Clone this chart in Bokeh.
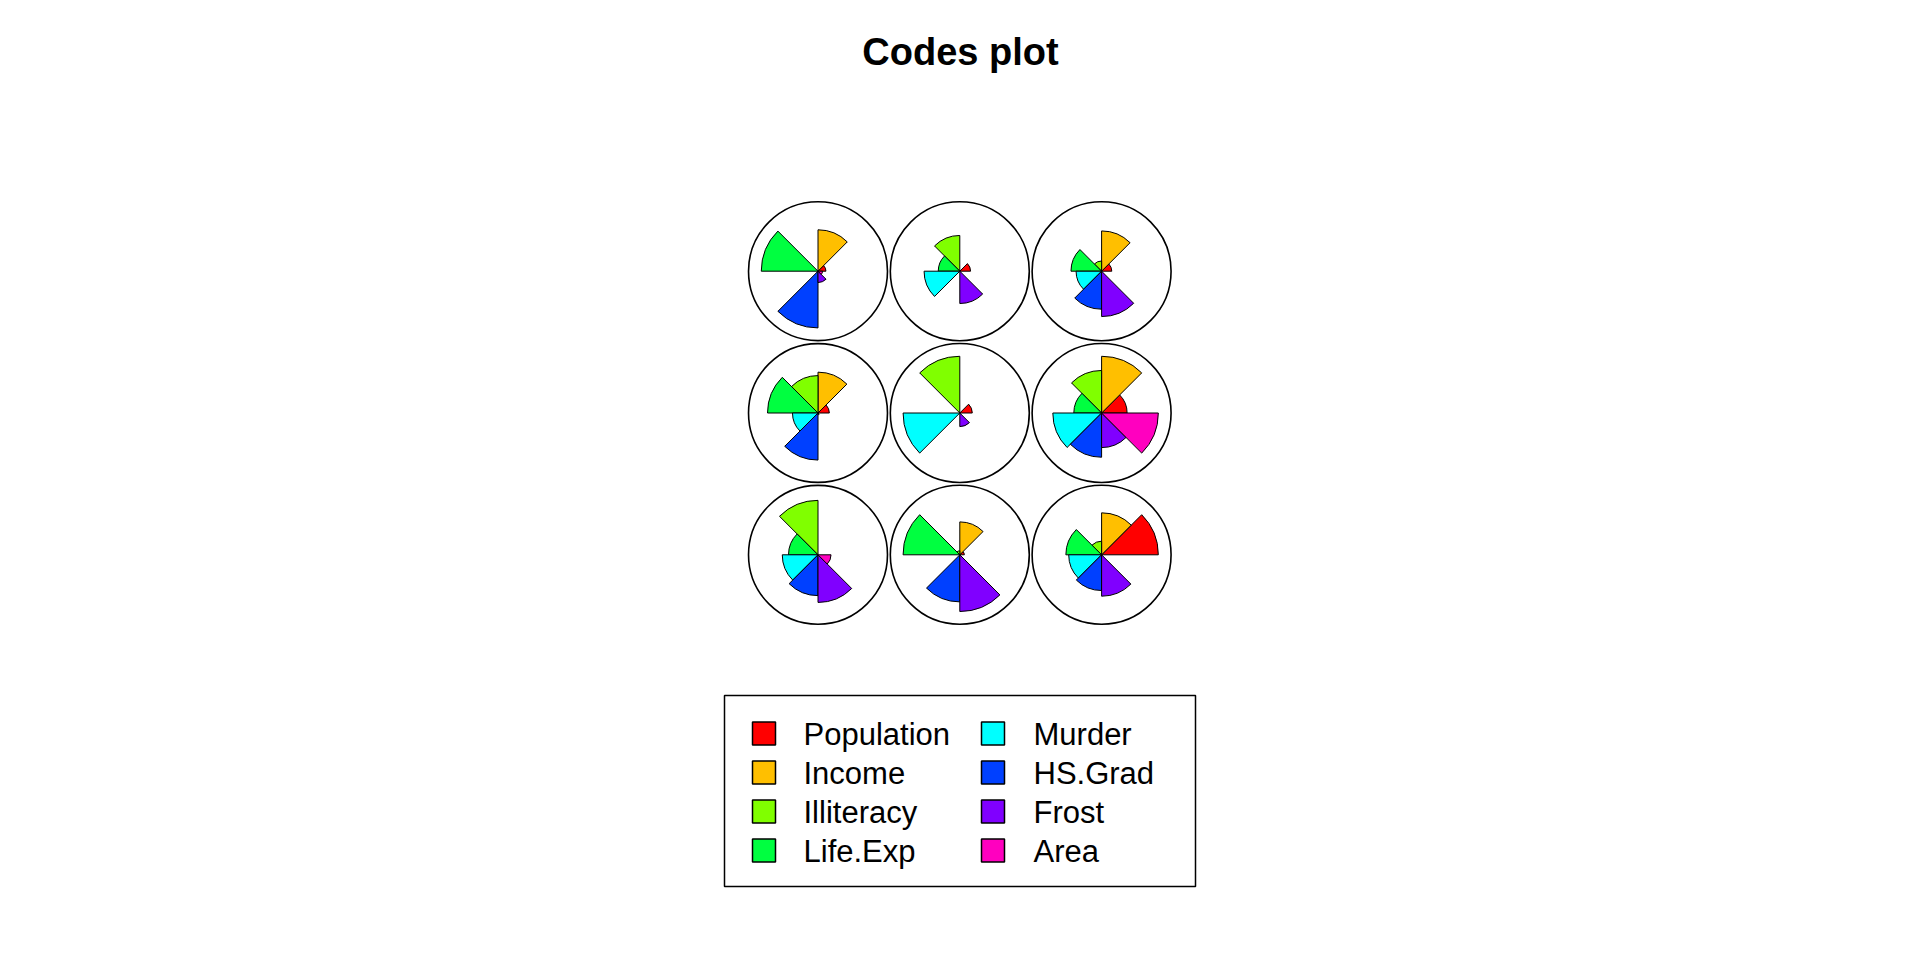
import numpy as np
from bokeh.plotting import figure
from bokeh.models import Range1d, ColumnDataSource, Label
from bokeh.core.properties import value
from bokeh.embed import file_html
from bokeh.resources import INLINE

# ---- data ----
variables = ["Population", "Income", "Illiteracy", "Life.Exp",
             "Murder", "HS.Grad", "Frost", "Area"]
colors = ["#FF0000", "#FFBF00", "#80FF00", "#00FF40",
          "#00FFFF", "#0040FF", "#8000FF", "#FF00BF"]

# unit grid positions (3x3 rectangular SOM), unit 1 bottom-left
unit_x = [1, 2, 3, 1, 2, 3, 1, 2, 3]
unit_y = [1, 1, 1, 2, 2, 2, 3, 3, 3]

# scaled codebook values (0..1) per unit, columns = variables
codes = [
    [0.00, 0.00, 0.96, 0.52, 0.63, 0.72, 0.84, 0.23],  # unit 1 (bottom-left)
    [0.08, 0.58, 0.07, 1.00, 0.00, 0.83, 1.00, 0.00],  # unit 2
    [1.00, 0.74, 0.24, 0.63, 0.58, 0.63, 0.73, 0.00],  # unit 3
    [0.20, 0.72, 0.66, 0.89, 0.45, 0.83, 0.03, 0.00],  # unit 4
    [0.22, 0.00, 1.00, 0.00, 1.00, 0.00, 0.24, 0.00],  # unit 5
    [0.45, 1.00, 0.75, 0.49, 0.86, 0.78, 0.61, 1.00],  # unit 6
    [0.14, 0.73, 0.00, 1.00, 0.00, 1.00, 0.20, 0.08],  # unit 7 (top-left)
    [0.19, 0.00, 0.63, 0.38, 0.63, 0.00, 0.57, 0.00],  # unit 8
    [0.18, 0.71, 0.18, 0.54, 0.45, 0.67, 0.80, 0.00],  # unit 9
]

title_text = "Codes plot"

# ---- layout constants ----
W, H = 1920, 960
S = 141.8                 # pixels per grid unit
CX0, CY0 = 817.5, 554.3   # pixel position of unit 1 centre
CIRCLE_R = 0.49
SEG_LEN = 0.4

def xd(px):
    return 1 + (px - CX0) / S

def yd(py):
    return 1 + (CY0 - py) / S

p = figure(width=W, height=H, output_backend="svg", toolbar_location=None,
           x_range=Range1d(xd(0), xd(W)), y_range=Range1d(yd(H), yd(0)),
           min_border=0)
p.axis.visible = False
p.grid.visible = False
p.outline_line_color = None
p.background_fill_color = "white"
p.border_fill_color = "white"

# circles
p.circle(x=unit_x, y=unit_y, radius=CIRCLE_R, fill_color=None,
         line_color="black", line_width=1.6)

# segments
nv = len(variables)
step = 2 * np.pi / nv
wx, wy, wr, ws, we, wc = [], [], [], [], [], []
for u in range(len(unit_x)):
    for k in range(nv):
        v = codes[u][k]
        if v <= 0:
            continue
        wx.append(unit_x[u]); wy.append(unit_y[u])
        wr.append(SEG_LEN * v)
        ws.append(k * step); we.append((k + 1) * step)
        wc.append(colors[k])
src = ColumnDataSource(dict(x=wx, y=wy, r=wr, s=ws, e=we, c=wc))
p.wedge(x="x", y="y", radius="r", start_angle="s", end_angle="e",
        direction="anticlock", fill_color="c", line_color="black",
        line_width=1, source=src)

# title
p.add_layout(Label(x=W / 2, y=H - 51, x_units="screen", y_units="screen",
                   text=title_text, text_align="center", text_baseline="middle",
                   text_font="Liberation Sans", text_font_style="bold",
                   text_font_size="38px", text_color="black"))

# legend (two columns, column-major like R)
box_l, box_r, box_t, box_b = 724, 1195, 695, 886
p.quad(left=[xd(box_l)], right=[xd(box_r)], top=[yd(box_t)], bottom=[yd(box_b)],
       fill_color=None, line_color="black", line_width=1.5)
row_y = [733, 772, 811, 850]
col_sq = [763.5, 992.5]
col_tx = [803, 1033]
sq = 23 / S
lx, ly, lc, tx, ty, tt = [], [], [], [], [], []
for i, name in enumerate(variables):
    col, row = divmod(i, 4)
    lx.append(xd(col_sq[col])); ly.append(yd(row_y[row])); lc.append(colors[i])
    tx.append(xd(col_tx[col])); ty.append(yd(row_y[row] + 1)); tt.append(name)
p.rect(x=lx, y=ly, width=sq, height=sq, fill_color=lc, line_color="black",
       line_width=1.5)
p.text(x=tx, y=ty, text=tt, text_font=value("Liberation Sans"),
       text_font_size="31px", text_baseline="middle", text_align="left",
       text_color="black")

open("out.html", "w").write(file_html(p, INLINE))
